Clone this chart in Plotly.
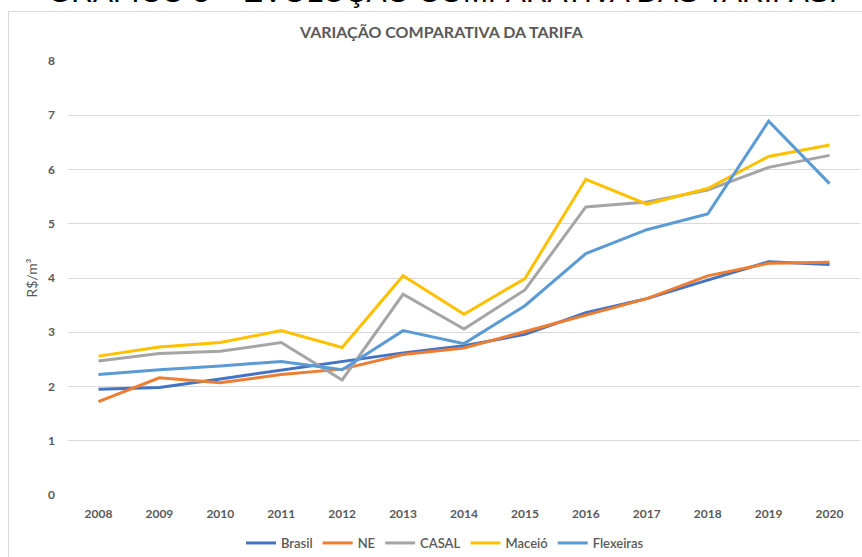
import plotly.graph_objects as go

years = ["2008", "2009", "2010", "2011", "2012", "2013", "2014",
         "2015", "2016", "2017", "2018", "2019", "2020"]
brasil = [1.95, 1.98, 2.14, 2.30, 2.45, 2.62, 2.75, 2.96, 3.36, 3.62, 3.96, 4.30, 4.25]
ne = [1.72, 2.16, 2.07, 2.22, 2.32, 2.59, 2.71, 3.01, 3.32, 3.62, 4.04, 4.27, 4.29]
casal = [2.47, 2.61, 2.65, 2.81, 2.12, 3.70, 3.06, 3.78, 5.31, 5.40, 5.62, 6.04, 6.26]
maceio = [2.56, 2.73, 2.81, 3.03, 2.72, 4.04, 3.33, 3.99, 5.82, 5.36, 5.65, 6.24, 6.45]
flexeiras = [2.22, 2.31, 2.38, 2.46, 2.31, 3.03, 2.79, 3.49, 4.45, 4.89, 5.18, 6.89, 5.74]

series = [
    ("Brasil", brasil, "#4472C4"),
    ("NE", ne, "#ED7D31"),
    ("CASAL", casal, "#A5A5A5"),
    ("Maceió", maceio, "#FFC000"),
    ("Flexeiras", flexeiras, "#5B9BD5"),
]

W, H = 862, 557
L, R, T, B = 68, 2, 61, 62
pw = W - L - R
ph = H - T - B

def px_x(p):
    return (p - L) / pw

def px_y(p):
    return (H - B - p) / ph

fig = go.Figure()
for name, vals, color in series:
    fig.add_trace(go.Scatter(
        x=years, y=vals, name=name, mode="lines",
        line=dict(color=color, width=3),
    ))

gray = "#595959"
fig.update_layout(
    template="none",
    width=W, height=H,
    margin=dict(l=L, r=R, t=T, b=B, pad=0, autoexpand=False),
    paper_bgcolor="white", plot_bgcolor="white",
    font=dict(family="Lato", color=gray, size=12),
    showlegend=True,
    legend=dict(
        orientation="h", xref="container", yref="container",
        x=445 / W, xanchor="center",
        y=1 - 543 / H, yanchor="middle",
        font=dict(family="Lato", size=13, color=gray, weight=600),
        itemwidth=30, tracegroupgap=0, bgcolor="rgba(0,0,0,0)",
    ),
    xaxis=dict(
        type="category", range=[-0.5, 12.5], automargin=False,
        showgrid=False, showline=False, zeroline=False,
        ticks="", tickfont=dict(family="Lato", size=12, color=gray, weight="bold"),
        ticklabelstandoff=10,
    ),
    yaxis=dict(
        range=[0, 8], dtick=1, tick0=0, automargin=False,
        showgrid=True, gridcolor="#D9D9D9", gridwidth=1,
        zeroline=False, showline=False, ticks="",
        tickfont=dict(family="Lato", size=12, color=gray, weight="bold"),
        ticklabelstandoff=12,
        title=dict(text="R$/m³", font=dict(family="Lato", size=14, color=gray), standoff=7),
    ),
    shapes=[
        dict(type="rect", xref="paper", yref="paper",
             x0=px_x(8.5), x1=px_x(W + 20), y0=px_y(H + 20), y1=px_y(11.5),
             line=dict(color="#D9D9D9", width=1), fillcolor="rgba(0,0,0,0)", layer="below"),
    ],
    annotations=[
        dict(text="<b>VARIAÇÃO COMPARATIVA DA TARIFA</b>", xref="paper", yref="paper",
             x=px_x(441), y=px_y(32), xanchor="center", yanchor="middle",
             showarrow=False, font=dict(family="Lato", size=16, color=gray)),
        dict(text="GRÁFICO 5 – EVOLUÇÃO COMPARATIVA DAS TARIFAS.", xref="paper", yref="paper",
             x=px_x(442), y=px_y(10), xanchor="center", yanchor="bottom",
             showarrow=False, font=dict(family="Liberation Sans", size=30, color="black")),
    ],
)

fig.write_html("out.html", config={"displayModeBar": False},
               post_script="document.body.style.margin='0';")
